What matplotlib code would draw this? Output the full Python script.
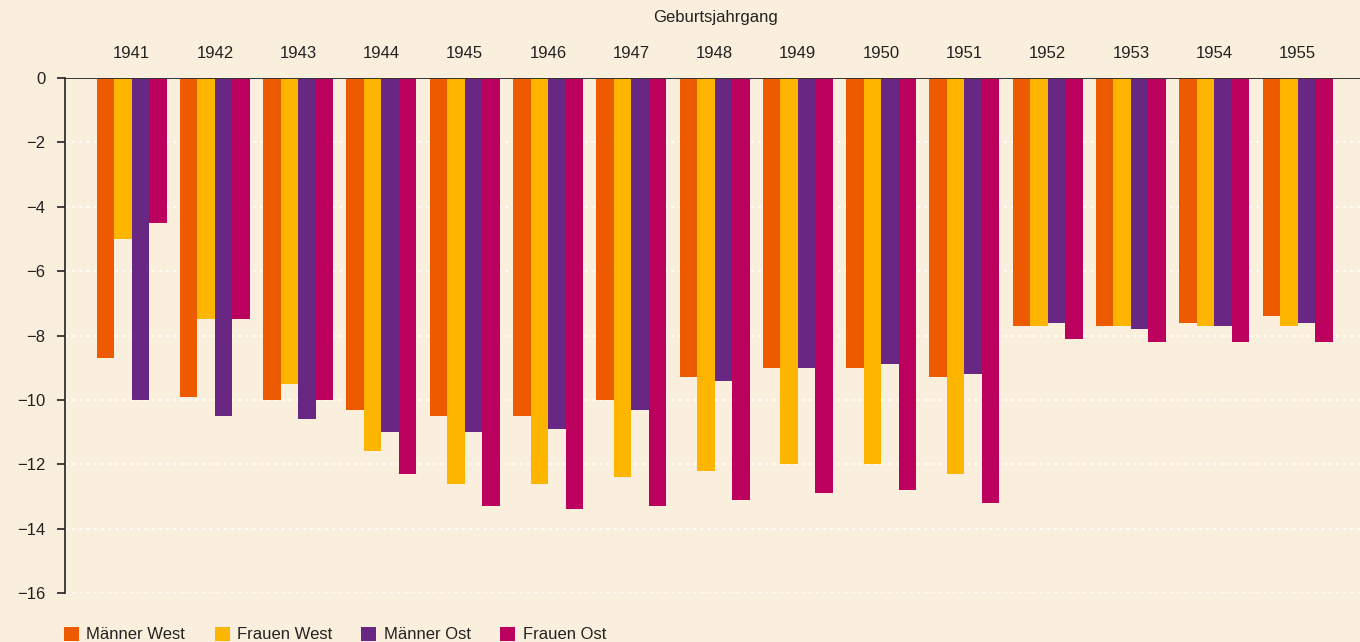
import matplotlib
matplotlib.use("Agg")
import matplotlib.pyplot as plt
import numpy as np

plt.rcParams['font.family'] = ['Liberation Sans', 'DejaVu Sans']

# Geburtsjahrgang
years = ["1941", "1942", "1943", "1944", "1945", "1946", "1947", "1948",
         "1949", "1950", "1951", "1952", "1953", "1954", "1955"]

# Werte je Gruppe
maenner_west = [-8.7, -9.9, -10.0, -10.3, -10.5, -10.5, -10.0, -9.3, -9.0, -9.0, -9.3, -7.7, -7.7, -7.6, -7.4]
frauen_west = [-5.0, -7.5, -9.5, -11.6, -12.6, -12.6, -12.4, -12.2, -12.0, -12.0, -12.3, -7.7, -7.7, -7.7, -7.7]
maenner_ost = [-10.0, -10.5, -10.6, -11.0, -11.0, -10.9, -10.3, -9.4, -9.0, -8.9, -9.2, -7.6, -7.8, -7.7, -7.6]
frauen_ost = [-4.5, -7.5, -10.0, -12.3, -13.3, -13.4, -13.3, -13.1, -12.9, -12.8, -13.2, -8.1, -8.2, -8.2, -8.2]

series = [("Männer West", maenner_west, "#EE5A00"),
          ("Frauen West", frauen_west, "#FDB500"),
          ("Männer Ost", maenner_ost, "#692784"),
          ("Frauen Ost", frauen_ost, "#BC005E")]

bg = "#FAEFDC"
fig = plt.figure(figsize=(13.6, 6.42), dpi=100, facecolor=bg)
ax = fig.add_axes([0.0478, 0.0763, 0.9522, 0.8022])
ax.set_facecolor(bg)

x = np.arange(len(years))
w = 0.21
for i, (name, vals, col) in enumerate(series):
    ax.bar(x + (i - 1.5) * w, vals, w, color=col, label=name, zorder=2)

ax.set_ylim(-16, 0)
ax.set_xlim(-0.8, 14.75)
ax.set_yticks(np.arange(-16, 1, 2))
ax.set_yticklabels(["\u2212%d" % abs(v) if v else "0" for v in range(-16, 1, 2)])
ax.yaxis.grid(True, color="white", linestyle=(0, (1.5, 2.5)), linewidth=1.3, zorder=1)
ax.set_axisbelow(True)

ax.xaxis.tick_top()
ax.set_xticks(x)
ax.set_xticklabels(years)
ax.tick_params(axis="x", length=0, pad=12, labelsize=12, colors="#222222")
ax.tick_params(axis="y", length=6, width=1.2, direction="out", labelsize=12, colors="#222222", pad=8)

for s in ["top", "right", "bottom"]:
    ax.spines[s].set_visible(False)
ax.spines["left"].set_color("#222222")
ax.spines["left"].set_linewidth(1.2)
ax.axhline(0, color="#333333", linewidth=1.4, zorder=3)

fig.text(0.526, 0.972, "Geburtsjahrgang", ha="center", va="center", fontsize=12, color="#222222")

fig.legend(loc="lower left", bbox_to_anchor=(0.036, -0.024), ncol=4, frameon=False,
           fontsize=12, handlelength=0.9, handleheight=0.9, handletextpad=0.45,
           columnspacing=1.75, labelcolor="#222222")

fig.savefig("out.png", dpi=100, facecolor=bg)
